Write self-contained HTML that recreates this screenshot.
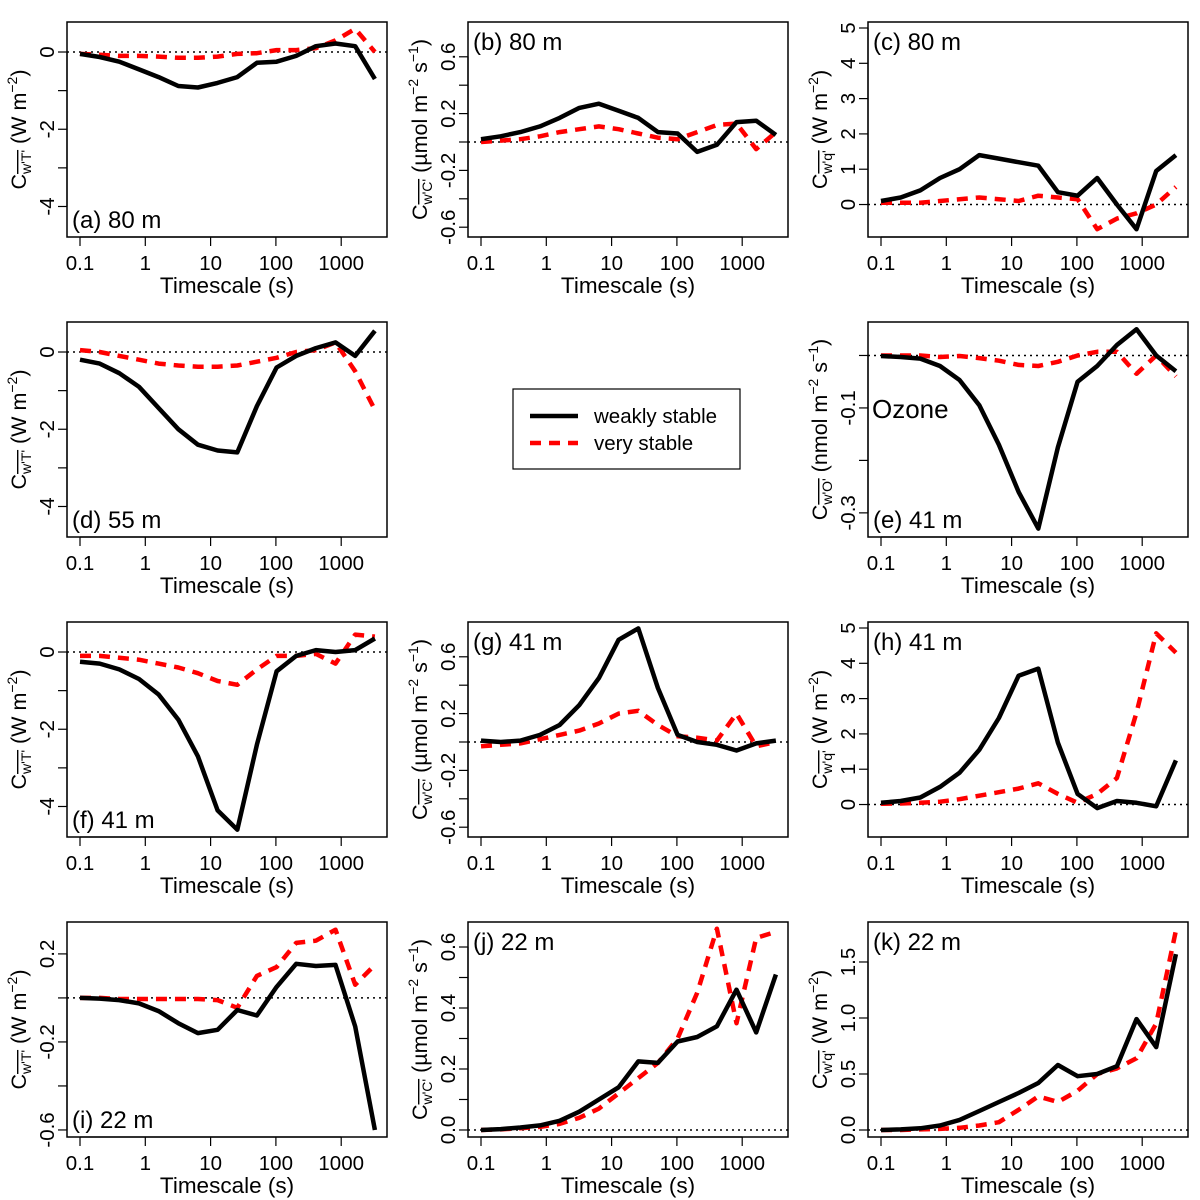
<!DOCTYPE html>
<html><head><meta charset="utf-8"><style>
html,body{margin:0;padding:0;background:#fff;}
svg{display:block;font-family:"Liberation Sans",Arial,sans-serif;}
</style></head><body>
<svg id="fig" width="1200" height="1200" viewBox="0 0 1200 1200" xmlns="http://www.w3.org/2000/svg"></svg>
<script>
const timescales=[0.1,0.2,0.4,0.8,1.6,3.2,6.4,12.8,25.6,51.2,102.4,204.8,409.6,819.2,1638.4,3276.8];
const xTicks=[0.1,1,10,100,1000];
const xTickLabels=["0.1","1","10","100","1000"];
const aWeak=[-0.05,-0.13,-0.25,-0.45,-0.65,-0.88,-0.92,-0.8,-0.65,-0.28,-0.25,-0.1,0.15,0.22,0.15,-0.7];
const aVery=[-0.05,-0.07,-0.1,-0.1,-0.12,-0.15,-0.15,-0.12,-0.05,-0.03,0.05,0.05,0.1,0.3,0.6,0.0];
const bWeak=[0.02,0.04,0.07,0.11,0.17,0.24,0.27,0.22,0.17,0.07,0.06,-0.07,-0.02,0.14,0.15,0.05];
const bVery=[0.0,0.01,0.02,0.04,0.07,0.09,0.11,0.09,0.06,0.03,0.02,0.07,0.12,0.13,-0.05,0.07];
const cWeak=[0.1,0.2,0.4,0.75,1.0,1.4,1.3,1.2,1.1,0.35,0.25,0.75,0.0,-0.7,0.95,1.4];
const cVery=[0.05,0.05,0.05,0.1,0.15,0.2,0.15,0.1,0.25,0.2,0.15,-0.7,-0.4,-0.25,0.0,0.5];
const dWeak=[-0.2,-0.3,-0.55,-0.9,-1.45,-2.0,-2.4,-2.55,-2.6,-1.4,-0.4,-0.1,0.1,0.25,-0.1,0.55];
const dVery=[0.05,0.0,-0.1,-0.2,-0.3,-0.35,-0.38,-0.38,-0.35,-0.25,-0.15,0.0,0.05,0.25,-0.5,-1.5];
const eWeak=[-0.001,-0.003,-0.006,-0.02,-0.047,-0.095,-0.17,-0.26,-0.33,-0.175,-0.05,-0.02,0.02,0.05,0.0,-0.03];
const eVery=[0,0,0,-0.003,-0.001,-0.005,-0.01,-0.018,-0.02,-0.012,0.0,0.007,0.007,-0.035,0.0,-0.04];
const fWeak=[-0.25,-0.3,-0.45,-0.7,-1.1,-1.75,-2.7,-4.1,-4.6,-2.4,-0.5,-0.1,0.05,0.0,0.05,0.35];
const fVery=[-0.1,-0.1,-0.15,-0.2,-0.3,-0.4,-0.55,-0.75,-0.85,-0.45,-0.1,-0.1,-0.05,-0.3,0.45,0.4];
const gWeak=[0.01,0.0,0.01,0.05,0.12,0.26,0.45,0.72,0.80,0.38,0.05,0.0,-0.02,-0.06,-0.01,0.01];
const gVery=[-0.03,-0.02,-0.01,0.02,0.05,0.08,0.13,0.2,0.22,0.12,0.04,0.03,0.01,0.2,-0.03,0.0];
const hWeak=[0.05,0.1,0.2,0.5,0.9,1.55,2.45,3.65,3.85,1.75,0.3,-0.1,0.1,0.05,-0.05,1.25];
const hVery=[0.02,0.03,0.05,0.08,0.15,0.25,0.35,0.45,0.6,0.3,0.05,0.3,0.75,2.6,4.85,4.3];
const iWeak=[0.0,-0.003,-0.01,-0.025,-0.06,-0.115,-0.16,-0.145,-0.055,-0.08,0.05,0.155,0.145,0.15,-0.13,-0.6];
const iVery=[0,0,-0.005,-0.005,-0.005,-0.005,-0.005,-0.01,-0.045,0.1,0.14,0.25,0.26,0.31,0.06,0.15];
const jWeak=[0,0.003,0.008,0.015,0.03,0.06,0.1,0.14,0.225,0.22,0.29,0.305,0.34,0.46,0.32,0.51];
const jVery=[0,0.002,0.006,0.01,0.02,0.04,0.07,0.12,0.17,0.22,0.3,0.45,0.66,0.35,0.63,0.65];
const kWeak=[0,0.005,0.015,0.04,0.09,0.17,0.25,0.33,0.42,0.58,0.48,0.5,0.57,0.99,0.74,1.57];
const kVery=[0,0,0.005,0.01,0.02,0.04,0.07,0.18,0.3,0.25,0.35,0.5,0.55,0.64,0.95,1.78];

const NS="http://www.w3.org/2000/svg";
const svg=document.getElementById('fig');
function mk(tag,attrs,parent){const e=document.createElementNS(NS,tag);for(const k in attrs)e.setAttribute(k,attrs[k]);(parent||svg).appendChild(e);return e;}

const panels=[
 {id:"a",col:0,row:0,w:aWeak,v:aVery,ymin:-4.79,ymax:0.777,ticks:[0,-1,-2,-3,-4],labels:[0,-2,-4],fmt:v=>String(v),sub:"w'T'",unit:"W",lab:"(a) 80 m",top:false},
 {id:"b",col:1,row:0,w:bWeak,v:bVery,ymin:-0.669,ymax:0.845,ticks:[-0.6,-0.4,-0.2,0,0.2,0.4,0.6],labels:[0.6,0.2,-0.2,-0.6],fmt:v=>v.toFixed(1),sub:"w'C'",unit:"umol",lab:"(b) 80 m",top:true},
 {id:"c",col:2,row:0,w:cWeak,v:cVery,ymin:-0.92,ymax:5.17,ticks:[0,1,2,3,4,5],labels:[0,1,2,3,4,5],fmt:v=>String(v),sub:"w'q'",unit:"W",lab:"(c) 80 m",top:true},
 {id:"d",col:0,row:1,w:dWeak,v:dVery,ymin:-4.79,ymax:0.777,ticks:[0,-1,-2,-3,-4],labels:[0,-2,-4],fmt:v=>String(v),sub:"w'T'",unit:"W",lab:"(d) 55 m",top:false},
 {id:"e",col:2,row:1,w:eWeak,v:eVery,ymin:-0.346,ymax:0.0638,ticks:[0,-0.1,-0.2,-0.3],labels:[-0.1,-0.3],fmt:v=>v.toFixed(1),sub:"w'O'",unit:"nmol",lab:"(e) 41 m",top:false},
 {id:"f",col:0,row:2,w:fWeak,v:fVery,ymin:-4.79,ymax:0.777,ticks:[0,-1,-2,-3,-4],labels:[0,-2,-4],fmt:v=>String(v),sub:"w'T'",unit:"W",lab:"(f) 41 m",top:false},
 {id:"g",col:1,row:2,w:gWeak,v:gVery,ymin:-0.669,ymax:0.845,ticks:[-0.6,-0.4,-0.2,0,0.2,0.4,0.6],labels:[0.6,0.2,-0.2,-0.6],fmt:v=>v.toFixed(1),sub:"w'C'",unit:"umol",lab:"(g) 41 m",top:true},
 {id:"h",col:2,row:2,w:hWeak,v:hVery,ymin:-0.92,ymax:5.17,ticks:[0,1,2,3,4,5],labels:[0,1,2,3,4,5],fmt:v=>String(v),sub:"w'q'",unit:"W",lab:"(h) 41 m",top:true},
 {id:"i",col:0,row:3,w:iWeak,v:iVery,ymin:-0.632,ymax:0.345,ticks:[0.2,0,-0.2,-0.4,-0.6],labels:[0.2,-0.2,-0.6],fmt:v=>v.toFixed(1),sub:"w'T'",unit:"W",lab:"(i) 22 m",top:false},
 {id:"j",col:1,row:3,w:jWeak,v:jVery,ymin:-0.023,ymax:0.682,ticks:[0,0.1,0.2,0.3,0.4,0.5,0.6],labels:[0,0.2,0.4,0.6],fmt:v=>v.toFixed(1),sub:"w'C'",unit:"umol",lab:"(j) 22 m",top:true},
 {id:"k",col:2,row:3,w:kWeak,v:kVery,ymin:-0.0625,ymax:1.857,ticks:[0,0.5,1,1.5],labels:[0,0.5,1,1.5],fmt:v=>v.toFixed(1),sub:"w'q'",unit:"W",lab:"(k) 22 m",top:true}
];
const colL=[67,468,868], rowT=[22,322,622,922], PW=320, PH=215;

panels.forEach(p=>{
  const L=colL[p.col],T=rowT[p.row],R=L+PW,B=T+PH;
  const g=mk('g',{});
  
  
  const xs=v=>L+13+(Math.log10(v)+1)*65.3;
  const ys=v=>B-(v-p.ymin)/(p.ymax-p.ymin)*PH;
  const z=mk('line',{x1:L,x2:R,y1:ys(0),y2:ys(0),stroke:'#000','stroke-width':1.5,'stroke-dasharray':'2,4'},g);
  
  
  const cl=mk('clipPath',{id:'clip'+p.id},g);
  mk('rect',{x:L,y:T,width:PW,height:PH},cl);
  const ptsV=timescales.map((t,i)=>xs(t).toFixed(1)+','+ys(p.v[i]).toFixed(1)).join(' ');
  const lv=mk('polyline',{points:ptsV,fill:'none',stroke:'#ff0000','stroke-width':4.5,'stroke-dasharray':'11,8','stroke-linejoin':'round','clip-path':'url(#clip'+p.id+')'},g);
  
  
  const ptsW=timescales.map((t,i)=>xs(t).toFixed(1)+','+ys(p.w[i]).toFixed(1)).join(' ');
  const lw=mk('polyline',{points:ptsW,fill:'none',stroke:'#000','stroke-width':4.5,'stroke-linejoin':'round','clip-path':'url(#clip'+p.id+')'},g);
  
  
  const bx=mk('rect',{x:L,y:T,width:PW,height:PH,fill:'none',stroke:'#000','stroke-width':1.5},g);
  
  
  const xa=mk('g',{},g);
  
  
  mk('line',{x1:xs(xTicks[0]),x2:xs(xTicks[xTicks.length-1]),y1:B,y2:B,stroke:'#000','stroke-width':1.2},xa);
  xTicks.forEach((t,i)=>{
    mk('line',{x1:xs(t),x2:xs(t),y1:B,y2:B+9,stroke:'#000','stroke-width':1.2},xa);
    const tx=mk('text',{x:xs(t),y:B+33,'text-anchor':'middle','font-size':20.5},xa);
    tx.textContent=xTickLabels[i];
  });
  const xt=mk('text',{x:L+160,y:B+56,'text-anchor':'middle','font-size':22.5},g);
  xt.textContent='Timescale (s)';
  
  
  const ya=mk('g',{},g);
  
  
  const tmin=Math.min(...p.ticks),tmax=Math.max(...p.ticks);
  mk('line',{x1:L,x2:L,y1:ys(tmin),y2:ys(tmax),stroke:'#000','stroke-width':1.2},ya);
  p.ticks.forEach(t=>mk('line',{x1:L-9,x2:L,y1:ys(t),y2:ys(t),stroke:'#000','stroke-width':1.2},ya));
  p.labels.forEach(t=>{
    const tx=mk('text',{x:L-13,y:ys(t),'text-anchor':'middle','font-size':20.5,transform:'rotate(-90 '+(L-13)+' '+ys(t)+')'},ya);
    tx.textContent=p.fmt(t);
  });
  const cy=T+PH/2, cx=L-41;
  const yt=mk('text',{x:cx,y:cy,'text-anchor':'middle','font-size':21.5,transform:'rotate(-90 '+cx+' '+cy+')'},g);
  
  
  let html='C<tspan font-size="14" dy="5" text-decoration="overline">'+p.sub+'</tspan><tspan dy="-5"> (</tspan>';
  if(p.unit==='W') html+='<tspan>W m</tspan><tspan font-size="14" dy="-9">−2</tspan><tspan dy="9">)</tspan>';
  else html+='<tspan>'+(p.unit==='umol'?'µmol':'nmol')+' m</tspan><tspan font-size="14" dy="-9">−2</tspan><tspan dy="9"> s</tspan><tspan font-size="14" dy="-9">−1</tspan><tspan dy="9">)</tspan>';
  yt.innerHTML=html;
  const pl=mk('text',{x:L+5,y:p.top?T+28:B-9,'font-size':24},g);
  pl.textContent=p.lab;
  
  
  if(p.id==='e'){
    const oz=mk('text',{x:L+4,y:T+96,'font-size':26},g);
    oz.textContent='Ozone';
    
    
  }
});
const lg=mk('g',{});


mk('rect',{x:513,y:389,width:227,height:80,fill:'#fff',stroke:'#000','stroke-width':1.2},lg);
mk('line',{x1:530,x2:578,y1:416,y2:416,stroke:'#000','stroke-width':4.5},lg);
mk('line',{x1:530,x2:578,y1:443,y2:443,stroke:'#ff0000','stroke-width':4.5,'stroke-dasharray':'11,8'},lg);
const l1=mk('text',{x:594,y:423,'font-size':20.5},lg);l1.textContent='weakly stable';


const l2=mk('text',{x:594,y:450,'font-size':20.5},lg);l2.textContent='very stable';


</script>
</body></html>
